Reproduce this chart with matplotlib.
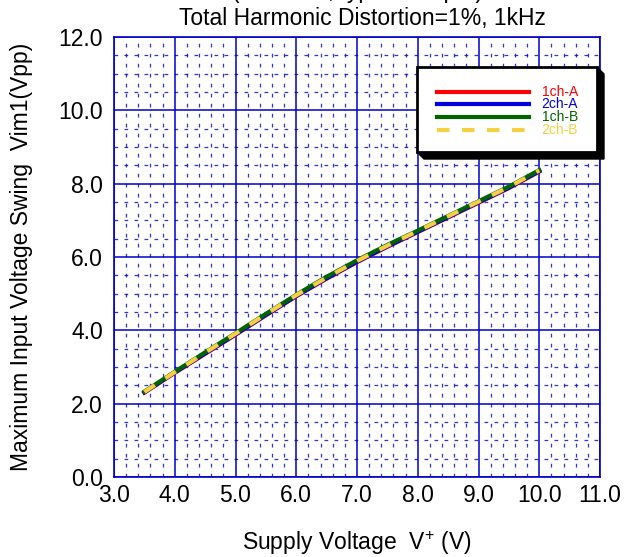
import matplotlib.pyplot as plt
from matplotlib.ticker import MultipleLocator
from matplotlib.patches import Polygon, Rectangle

plt.rcParams['font.family'] = ['Liberation Sans', 'DejaVu Sans']
plt.rcParams['mathtext.fontset'] = 'custom'
plt.rcParams['mathtext.rm'] = 'Liberation Sans'

# data
supply_v = [3.5, 4.0, 4.5, 5.0, 5.5, 6.0, 6.5, 7.0, 7.5, 8.0, 8.5, 9.0, 9.5, 10.0]
vim_1ch_a = [2.30, 2.84, 3.36, 3.88, 4.41, 4.93, 5.41, 5.86, 6.28, 6.68, 7.08, 7.48, 7.88, 8.33]
vim_2ch_a = [2.31, 2.85, 3.37, 3.89, 4.42, 4.94, 5.42, 5.87, 6.29, 6.69, 7.09, 7.49, 7.89, 8.34]
vim_1ch_b = [2.33, 2.87, 3.40, 3.92, 4.45, 4.97, 5.46, 5.91, 6.33, 6.72, 7.12, 7.52, 7.92, 8.37]
vim_2ch_b = [2.32, 2.86, 3.39, 3.91, 4.44, 4.96, 5.44, 5.89, 6.31, 6.71, 7.11, 7.51, 7.91, 8.36]
labels = ['1ch-A', '2ch-A', '1ch-B', '2ch-B']
colors = ['#ff0000', '#0000dd', '#006400', '#f5d040']

fig = plt.figure(figsize=(6.39, 5.57), dpi=100)
ax = fig.add_axes([114/639, 80/557, 486/639, 440/557])

blue = '#0000cc'
fs = 16.5
ax.set_xlim(3.0, 11.0)
ax.set_ylim(0.0, 12.0)
ax.xaxis.set_major_locator(MultipleLocator(1.0))
ax.xaxis.set_minor_locator(MultipleLocator(0.2))
ax.yaxis.set_major_locator(MultipleLocator(2.0))
ax.yaxis.set_minor_locator(MultipleLocator(0.5))
ax.grid(which='major', color=blue, linewidth=1.1)
ax.grid(which='minor', color=blue, linewidth=0.9, linestyle=(0, (3, 5)), alpha=0.8)
ax.set_axisbelow(True)
for s in ax.spines.values():
    s.set_color(blue)
    s.set_linewidth(1.2)
ax.tick_params(which='both', length=0, labelsize=fs)
ax.tick_params(axis='x', pad=5)
ax.tick_params(axis='y', pad=8)
ax.set_xticklabels(['%.1f' % v for v in ax.get_xticks()])
ax.set_yticklabels(['%.1f' % v for v in ax.get_yticks()])

series = [vim_1ch_a, vim_2ch_a, vim_1ch_b, vim_2ch_b]
for i, (vals, lab, c) in enumerate(zip(series, labels, colors)):
    ax.plot(supply_v, vals, color=c, linewidth=3, label=lab, zorder=3 + i,
            dashes=(3, 3) if i == 3 else (None, None))

ax.set_xlabel('Supply Voltage  V$^{+}$ (V)', fontsize=fs, va='center')
ax.xaxis.set_label_coords(0.5, (477 - 543) / 440)
ax.set_ylabel('Maximum Input Voltage Swing  Vim1(Vpp)', fontsize=fs, va='center')
ax.yaxis.set_label_coords((22 - 114) / 486, 0.5)

fig.text(357/639, 1 + 2/557, '(Ta=25\u00b0C, typical output)', fontsize=fs, ha='center', va='baseline')
fig.text(362/639, 1 - 7/557, 'Total Harmonic Distortion=1%, 1kHz', fontsize=fs, ha='center', va='top')

# legend box with shadow, drawn in axes coords
x0, x1 = (417-114)/486, (597-114)/486
y0, y1 = (477-152)/440, (477-67)/440
dx, dy = 7/486, 7/440
shadow = Polygon([(x0, y0), (x0 + dx, y0 - dy), (x1 + dx, y0 - dy), (x1 + dx, y1 - dy),
                  (x1, y1), (x1, y0)], closed=True, transform=ax.transAxes,
                 facecolor='black', edgecolor='black', zorder=10, clip_on=False)
ax.add_patch(shadow)
box = Rectangle((x0, y0), x1 - x0, y1 - y0, transform=ax.transAxes, facecolor='white',
                edgecolor='black', linewidth=2, zorder=11, clip_on=False)
ax.add_patch(box)
leg_y = [92, 104, 117, 130]
for i, (lab, c) in enumerate(zip(labels, colors)):
    yy = (477 - leg_y[i]) / 440
    ax.plot([(437-114)/486, (529-114)/486], [yy, yy], transform=ax.transAxes, color=c,
            linewidth=3, zorder=12, clip_on=False,
            dashes=(3, 3) if i == 3 else (None, None))
    ax.text((578-114)/486, yy, lab, transform=ax.transAxes, color=c, fontsize=10,
            ha='right', va='center', zorder=12)

fig.savefig('out.png', dpi=100)
